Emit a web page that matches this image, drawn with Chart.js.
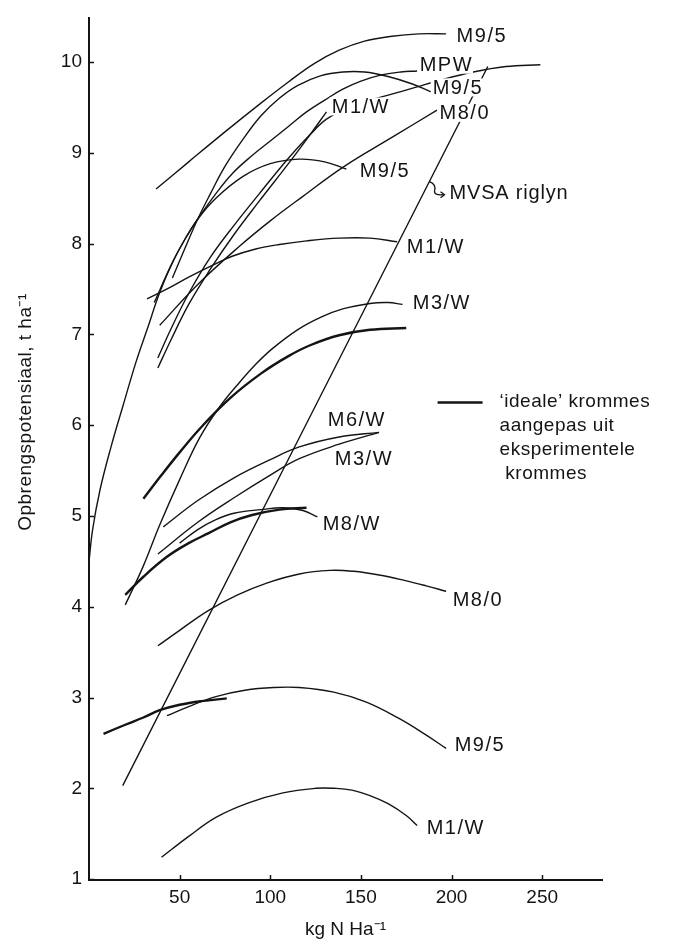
<!DOCTYPE html>
<html>
<head>
<meta charset="utf-8">
<script src="https://cdn.jsdelivr.net/npm/chart.js@4.4.1/dist/chart.umd.min.js"></script>
<style>
html, body { margin: 0; padding: 0; background: #fff; }
#wrap { width: 673px; height: 947px; }
</style>
</head>
<body>
<div id="wrap"><canvas id="chart" width="673" height="947"></canvas></div>
<script>
// ============= Data =============

const xTicks = [50, 100, 150, 200, 250];
const yTicks = [1, 2, 3, 4, 5, 6, 7, 8, 9, 10];

// [kg N/ha, t/ha]
const m95Top = [[37, 8.6], [55, 8.9], [75, 9.23], [95, 9.55], [110, 9.78], [124, 9.98], [138, 10.13], [152, 10.23], [166, 10.28], [182, 10.31], [197, 10.31]];
const mpw = [[36, 7.35], [45, 7.75], [53, 8.05], [61, 8.3], [70, 8.55], [79, 8.77], [90, 8.97], [100, 9.13], [110, 9.29], [120, 9.45], [130, 9.58], [140, 9.7], [150, 9.79], [162, 9.86], [172, 9.89], [181, 9.9]];
const m95Second = [[46, 7.62], [53, 7.95], [60, 8.27], [67, 8.55], [75, 8.85], [85, 9.15], [95, 9.41], [105, 9.6], [115, 9.74], [128, 9.85], [140, 9.89], [152, 9.89], [165, 9.84], [178, 9.76], [190, 9.66]];
const m95Mid = [[0, 4.5], [2, 4.85], [6, 5.28], [12, 5.75], [19, 6.23], [26, 6.7], [32, 7.05], [39, 7.46], [46, 7.79], [53, 8.05], [60, 8.27], [70, 8.5], [85, 8.74], [100, 8.88], [116, 8.93], [130, 8.9], [142, 8.82]];
const longCurve = [[38, 6.74], [45, 7.05], [55, 7.45], [67, 7.85], [80, 8.2], [94, 8.55], [110, 8.94], [122, 9.2], [131, 9.37], [142, 9.49], [155, 9.58], [166, 9.64], [180, 9.72], [192, 9.79], [212, 9.89], [230, 9.95], [249, 9.97]];
const m1wSteep = [[38, 6.63], [45, 6.93], [55, 7.33], [67, 7.72], [80, 8.1], [94, 8.47], [110, 8.88], [122, 9.2], [131, 9.45]];
const m80Upper = [[39, 7.1], [60, 7.55], [83, 7.97], [100, 8.25], [118, 8.52], [140, 8.84], [168, 9.18], [192, 9.47]];
const m1w80 = [[32, 7.39], [45, 7.52], [55, 7.63], [68, 7.76], [79, 7.86], [92, 7.94], [105, 7.99], [120, 8.03], [138, 8.06], [155, 8.06], [170, 8.02]];
const m3w73 = [[20, 4.02], [30, 4.45], [39, 4.9], [50, 5.4], [61, 5.86], [72, 6.2], [83, 6.47], [92, 6.67], [101, 6.84], [115, 7.05], [128, 7.19], [140, 7.28], [155, 7.34], [165, 7.35], [173, 7.33]];
const ideal7 = [[30, 5.19], [40, 5.45], [50, 5.7], [62, 5.98], [78, 6.3], [95, 6.57], [110, 6.76], [122, 6.88], [138, 6.99], [155, 7.05], [175, 7.07]];
const m6w = [[41, 4.88], [60, 5.17], [80, 5.42], [100, 5.62], [116, 5.76], [138, 5.87], [160, 5.92]];
const m3w58 = [[38, 4.58], [60, 4.93], [80, 5.2], [100, 5.45], [116, 5.63], [138, 5.79], [160, 5.92]];
const ideal5 = [[20, 4.13], [30, 4.33], [43, 4.55], [55, 4.7], [66, 4.81], [78, 4.93], [90, 5.01], [105, 5.07], [120, 5.09]];
const m8w = [[50, 4.7], [60, 4.85], [70, 4.96], [80, 5.03], [95, 5.07], [107, 5.09], [118, 5.06], [126, 4.99]];
const m80Low = [[38, 3.57], [50, 3.74], [66, 3.96], [82, 4.13], [98, 4.26], [116, 4.36], [133, 4.4], [146, 4.39], [160, 4.35], [174, 4.29], [186, 4.23], [197, 4.17]];
const ideal3 = [[8, 2.6], [20, 2.7], [30, 2.78], [39, 2.86], [50, 2.92], [62, 2.96], [76, 2.99]];
const m95Low = [[43, 2.8], [55, 2.9], [70, 3.01], [86, 3.08], [102, 3.11], [116, 3.11], [135, 3.06], [153, 2.95], [171, 2.77], [185, 2.6], [197, 2.44]];
const m1wLow = [[40, 1.24], [55, 1.47], [70, 1.68], [88, 1.84], [107, 1.95], [125, 2.0], [135, 2.0], [145, 1.98], [155, 1.92], [165, 1.83], [175, 1.7], [181, 1.59]];
const mvsaLine = [[18.6, 2.03], [220, 9.95]];

const thinCurves = [m95Top, mpw, m95Second, m95Mid, longCurve, m1wSteep, m80Upper, m1w80, m3w73, m6w, m3w58, m8w, m80Low, m95Low, m1wLow];
const idealCurves = [ideal7, ideal5, ideal3];

// label anchors (left edge, vertical middle) in data units
const curveLabels = [
	{ text: "M9/5", x: 202.8, y: 10.29 },
	{ text: "MPW", x: 182.4, y: 9.97 },
	{ text: "M9/5", x: 189.6, y: 9.72 },
	{ text: "M1/W", x: 133.9, y: 9.51 },
	{ text: "M8/0", x: 193.4, y: 9.44 },
	{ text: "M9/5", x: 149.3, y: 8.81 },
	{ text: "M1/W", x: 175.3, y: 7.97 },
	{ text: "M3/W", x: 178.6, y: 7.35 },
	{ text: "M6/W", x: 131.7, y: 6.06 },
	{ text: "M3/W", x: 135.6, y: 5.63 },
	{ text: "M8/W", x: 128.9, y: 4.92 },
	{ text: "M8/0", x: 200.6, y: 4.08 },
	{ text: "M9/5", x: 201.7, y: 2.48 },
	{ text: "M1/W", x: 186.3, y: 1.57 }
];

const mvsaLabel = { text: "MVSA riglyn", x: 198.9, y: 8.56 };
const legendAnchor = { x: 226.5, y: 6.26 };
const legendLines = ["‘ideale’ krommes", "aangepas uit", "eksperimentele", " krommes"];

const yTitle = "Opbrengspotensiaal, t ha⁻¹";
const xTitle = "kg N Ha⁻¹";

// ============= Style =============

const INK = "#141414";
const FONT_FAMILY = "'Liberation Sans', Arial, sans-serif";
const TICK_FONT = { family: FONT_FAMILY, size: 19 };
const LABEL_FONT = "20px " + FONT_FAMILY;
const TEXT_FONT = "19px " + FONT_FAMILY;

function toPoints(pairs)
{
	return pairs.map(([ x, y ]) => ({ x, y }));
}

function lineDataset(pairs, width)
{
	return {
		data: toPoints(pairs),
		borderColor: INK,
		borderWidth: width,
		pointRadius: 0,
		tension: 0.4,
		fill: false
	};
}

function drawLabel(ctx, text, px, py)
{
	const w = ctx.measureText(text).width;
	ctx.fillStyle = "#fff";
	ctx.fillRect(px - 2, py - 9, w + 2, 18);
	ctx.fillStyle = INK;
	ctx.fillText(text, px, py + 1);
}

// ============= Annotations =============

const annotations = {
	id: "annotations",
	afterDatasetsDraw(chart)
	{
		const { ctx, chartArea, scales: { x, y } } = chart;
		ctx.save();

		// short inward tick marks
		ctx.strokeStyle = INK;
		ctx.lineWidth = 1.5;
		for (const v of yTicks)
		{
			const py = Math.round(y.getPixelForValue(v)) + 0.5;
			ctx.beginPath();
			ctx.moveTo(chartArea.left, py);
			ctx.lineTo(chartArea.left + 5, py);
			ctx.stroke();
		}
		for (const v of xTicks)
		{
			const px = Math.round(x.getPixelForValue(v)) + 0.5;
			ctx.beginPath();
			ctx.moveTo(px, chartArea.bottom);
			ctx.lineTo(px, chartArea.bottom - 5);
			ctx.stroke();
		}

		// curve labels
		ctx.font = LABEL_FONT;
		ctx.letterSpacing = "1.5px";
		ctx.textBaseline = "middle";
		ctx.textAlign = "left";
		for (const label of curveLabels)
		{
			drawLabel(ctx, label.text, x.getPixelForValue(label.x), y.getPixelForValue(label.y));
		}

		// MVSA guideline label with its hook
		{
			const px = x.getPixelForValue(mvsaLabel.x);
			const py = y.getPixelForValue(mvsaLabel.y);
			ctx.letterSpacing = "0.8px";
			drawLabel(ctx, mvsaLabel.text, px, py);
			ctx.lineWidth = 1.3;
			ctx.beginPath();
			ctx.moveTo(px - 20, py - 11);
			ctx.quadraticCurveTo(px - 13, py - 8, px - 15, py - 2);
			ctx.quadraticCurveTo(px - 16, py + 3, px - 6, py + 2);
			ctx.stroke();
			ctx.beginPath();
			ctx.moveTo(px - 9, py - 1);
			ctx.lineTo(px - 5, py + 2);
			ctx.lineTo(px - 9, py + 5);
			ctx.stroke();
		}

		// legend
		{
			const px = x.getPixelForValue(legendAnchor.x);
			const py = y.getPixelForValue(legendAnchor.y);
			ctx.lineWidth = 2.5;
			ctx.beginPath();
			ctx.moveTo(px - 62, py + 1);
			ctx.lineTo(px - 17, py + 1);
			ctx.stroke();
			ctx.font = TEXT_FONT;
			ctx.letterSpacing = "0.5px";
			legendLines.forEach((line, i) => ctx.fillText(line, px, py + i * 24));
		}

		// y axis title
		ctx.font = TEXT_FONT;
		ctx.letterSpacing = "0.5px";
		ctx.textAlign = "center";
		ctx.translate(26, 412);
		ctx.rotate(-Math.PI / 2);
		ctx.fillText(yTitle, 0, 0);

		ctx.restore();
	}
};

// ============= Chart =============

new Chart(document.getElementById("chart"), {
	type: "line",
	data: {
		datasets: [
			...thinCurves.map(c => lineDataset(c, 1.4)),
			...idealCurves.map(c => lineDataset(c, 2.4)),
			lineDataset(mvsaLine, 1.4)
		]
	},
	options: {
		responsive: false,
		devicePixelRatio: 1,
		animation: false,
		layout: { padding: { top: 10, right: 71, bottom: 0, left: 0 } },
		plugins: { legend: { display: false }, tooltip: { enabled: false } },
		scales: {
			x: {
				type: "linear",
				min: 0,
				max: 283,
				afterFit: scale => { scale.height = 67; },
				afterBuildTicks: scale => { scale.ticks = xTicks.map(value => ({ value })); },
				grid: { display: false, drawTicks: false },
				border: { display: true, color: INK, width: 2 },
				ticks: { color: INK, font: TICK_FONT, padding: 6, maxRotation: 0, callback: v => String(v) },
				title: { display: true, text: xTitle, color: INK, font: TICK_FONT, padding: { top: 0, bottom: 6 } }
			},
			y: {
				type: "linear",
				min: 0.99,
				max: 10.48,
				afterFit: scale => { scale.width = 89; },
				afterBuildTicks: scale => { scale.ticks = yTicks.map(value => ({ value })); },
				grid: { display: false, drawTicks: false },
				border: { display: true, color: INK, width: 2 },
				ticks: { color: INK, font: TICK_FONT, padding: 7, callback: v => String(v) }
			}
		}
	},
	plugins: [ annotations ]
});
</script>
</body>
</html>
